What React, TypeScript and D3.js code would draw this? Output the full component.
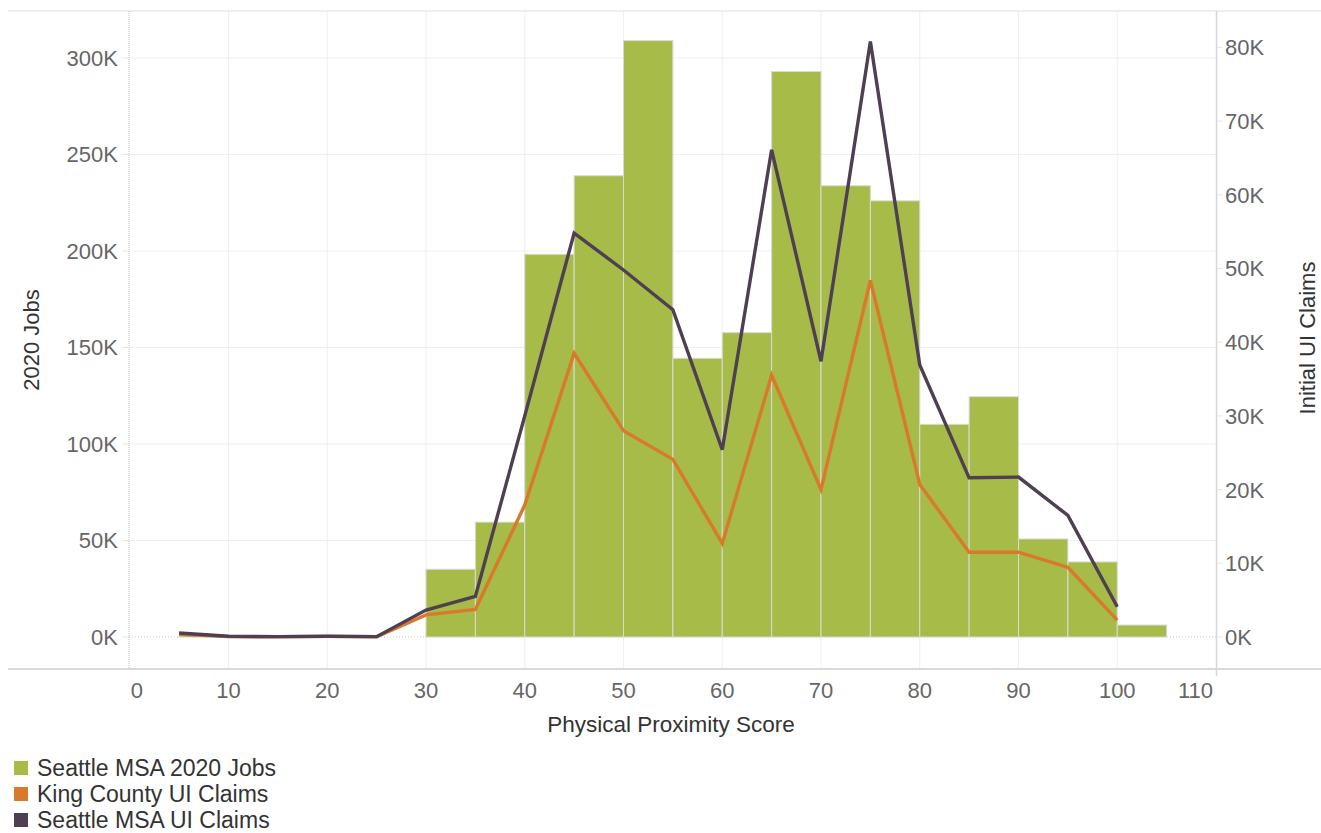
import React from "react";
import * as d3 from "d3";

const bins = [5, 10, 15, 20, 25, 30, 35, 40, 45, 50, 55, 60, 65, 70, 75, 80, 85, 90, 95, 100];
const jobs2020 = [800, 0, 0, 0, 0, 35100, 59500, 198300, 239000, 309000, 144400, 157700, 293000, 233800, 226000, 110200, 124500, 50800, 38900, 6200];
const kingCountyUI = [370, 50, 30, 80, 30, 3000, 3750, 17900, 38500, 28000, 24100, 12700, 35500, 20000, 48400, 20700, 11500, 11500, 9460, 2300];
const seattleMsaUI = [550, 100, 50, 100, 50, 3660, 5500, 30000, 54800, 49800, 44400, 25400, 66100, 37400, 80800, 36900, 21600, 21700, 16500, 4100];
const xTicks = [0, 10, 20, 30, 40, 50, 60, 70, 80, 90, 100, 110];
const leftTicks = [0, 50000, 100000, 150000, 200000, 250000, 300000];
const rightTicks = [0, 10000, 20000, 30000, 40000, 50000, 60000, 70000, 80000];
const legendItems = ["Seattle MSA 2020 Jobs", "King County UI Claims", "Seattle MSA UI Claims"];

const GREEN = "#a7bb48";
const ORANGE = "#d97a2b";
const DARK = "#4e3f52";
const FONT = "'Liberation Sans', Arial, sans-serif";

export default function App() {
  React.useEffect(() => {
    document.body.style.margin = "0";
  }, []);
  const W = 1321, H = 833;
  const top = 11, bottom = 669;
  const x = d3.scaleLinear().domain([0, 110]).range([129.75, 1216]);
  const yL = d3.scaleLinear().domain([0, 300000]).range([637, 58]);
  const yR = d3.scaleLinear().domain([0, 80000]).range([637, 47.4]);
  const fmtK = (v: number) => `${Math.round(v / 1000)}K`;
  const binW = 5;

  const lineK = d3.line<number>().x((_, i) => x(bins[i])).y((d) => yR(d));
  const colors = [GREEN, ORANGE, DARK];

  return (
    <svg width={W} height={H} style={{ position: "absolute", left: 0, top: 0, fontFamily: FONT }}>
      <rect x={0} y={0} width={W} height={H} fill="#fff" />
      {xTicks.slice(1, -1).map((t) => (
        <line key={"vg" + t} x1={x(t)} x2={x(t)} y1={top} y2={bottom} stroke="#efefef" strokeWidth={1} />
      ))}
      {leftTicks.slice(1).map((t) => (
        <line key={"hg" + t} x1={129} x2={1216} y1={yL(t)} y2={yL(t)} stroke="#efefef" strokeWidth={1} />
      ))}
      <line x1={8} x2={W} y1={top} y2={top} stroke="#dcdcdc" strokeWidth={1} />
      <line x1={129} x2={1216} y1={yL(0)} y2={yL(0)} stroke="#c8c8c8" strokeWidth={1} strokeDasharray="1,2" />
      {bins.map((b, i) =>
        jobs2020[i] > 0 ? (
          <rect
            key={"bar" + b}
            x={x(b)}
            y={yL(jobs2020[i])}
            width={x(b + binW) - x(b)}
            height={yL(0) - yL(jobs2020[i])}
            fill={GREEN}
            stroke="#d9d9d9"
            strokeWidth={1}
          />
        ) : null
      )}
      <path d={lineK(kingCountyUI) || ""} fill="none" stroke={ORANGE} strokeWidth={3.4} strokeLinejoin="miter" />
      <path d={lineK(seattleMsaUI) || ""} fill="none" stroke={DARK} strokeWidth={3.4} strokeLinejoin="miter" />
      <line x1={129} x2={129} y1={top} y2={bottom} stroke="#bdbdbd" strokeWidth={1} strokeDasharray="1,1" />
      {leftTicks.map((t) => (
        <g key={"lt" + t}>
          <line x1={122} x2={129} y1={yL(t)} y2={yL(t)} stroke="#e6e6e6" />
          <text x={118} y={yL(t)} dy="0.36em" textAnchor="end" fontSize={22} fill="#666">
            {fmtK(t)}
          </text>
        </g>
      ))}
      <line x1={1216.5} x2={1216.5} y1={top} y2={676} stroke="#d6d6d6" strokeWidth={1.5} />
      {rightTicks.map((t) => (
        <g key={"rt" + t}>
          <line x1={1217} x2={1222} y1={yR(t)} y2={yR(t)} stroke="#e6e6e6" />
          <text x={1225} y={yR(t)} dy="0.36em" textAnchor="start" fontSize={22} fill="#666">
            {fmtK(t)}
          </text>
        </g>
      ))}
      <line x1={8} x2={W} y1={bottom} y2={bottom} stroke="#d9d9d9" strokeWidth={2} />
      {xTicks.map((t, i) => (
        <text
          key={"xt" + t}
          x={i === 0 ? x(t) + 1 : i === xTicks.length - 1 ? x(t) - 3 : x(t)}
          y={698}
          textAnchor={i === 0 ? "start" : i === xTicks.length - 1 ? "end" : "middle"}
          fontSize={22}
          fill="#666"
        >
          {t}
        </text>
      ))}
      <text x={671} y={732} textAnchor="middle" fontSize={22.5} fill="#333">
        Physical Proximity Score
      </text>
      <text transform={`translate(39,${340}) rotate(-90)`} textAnchor="middle" fontSize={22} fill="#333">
        2020 Jobs
      </text>
      <text transform={`translate(1315,${338}) rotate(-90)`} textAnchor="middle" fontSize={22} fill="#333">
        Initial UI Claims
      </text>
      {legendItems.map((name, i) => (
        <g key={name} transform={`translate(0,${i * 26})`}>
          <rect x={14} y={761} width={14} height={14} fill={colors[i]} />
          <text x={37} y={776} fontSize={23} fill="#333">
            {name}
          </text>
        </g>
      ))}
    </svg>
  );
}
